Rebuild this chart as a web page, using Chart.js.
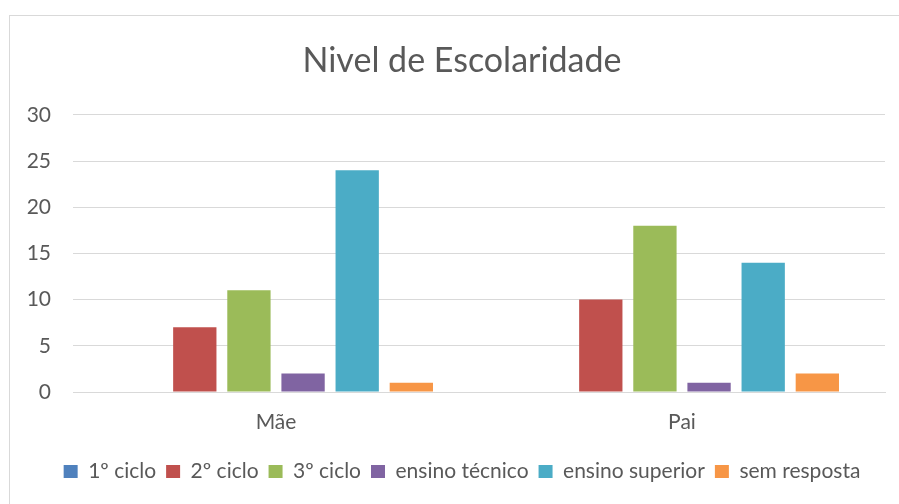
<!DOCTYPE html>
<html>
<head>
<meta charset="utf-8">
<script src="https://cdn.jsdelivr.net/npm/chart.js@4"></script>
<style>
  html, body { margin: 0; padding: 0; background: #fff; overflow: hidden; }
  #frame {
    position: absolute; left: 9px; top: 15px;
    width: 904px; height: 500px;
    border: 1px solid #d9d9d9; background: #fff;
  }
  #wrap { position: absolute; left: 0; top: 0; width: 904px; height: 489px; }
</style>
</head>
<body>
<div id="frame"><div id="wrap"><canvas id="myChart"></canvas></div></div>
<script>
// categories and series
const categories = ['Mãe', 'Pai'];
const seriesNames = ['1º ciclo', '2º ciclo', '3º ciclo', 'ensino técnico', 'ensino superior', 'sem resposta'];
const ciclo1 = [0, 0];
const ciclo2 = [7, 10];
const ciclo3 = [11, 18];
const tecnico = [2, 1];
const superior = [24, 14];
const semResposta = [1, 2];
const colors = ['#4f81bd', '#c0504d', '#9bbb59', '#8064a2', '#4bacc6', '#f79646'];

const values = [ciclo1, ciclo2, ciclo3, tecnico, superior, semResposta];
const font = 'Lato, "Open Sans", sans-serif';

const ctx = document.getElementById('myChart').getContext('2d');
const myChart = new Chart(ctx, {
    type: 'bar',
    data: {
        labels: categories,
        datasets: seriesNames.map((name, i) => ({
            label: name,
            data: values[i],
            backgroundColor: colors[i],
            borderWidth: 0,
            barPercentage: 0.8,
            categoryPercentage: 0.8
        }))
    },
    options: {
        responsive: true,
        maintainAspectRatio: false,
        animation: false,
        layout: { padding: { left: 0, right: 0, top: 0, bottom: 13 } },
        plugins: {
            title: {
                display: true,
                text: 'Nivel de Escolaridade',
                color: '#595959',
                font: { family: font, size: 34, weight: 'normal' },
                padding: { top: 25, bottom: 33 }
            },
            legend: {
                position: 'bottom',
                labels: {
                    color: '#595959',
                    font: { family: font, size: 21 },
                    boxWidth: 14,
                    boxHeight: 13,
                    padding: 10
                }
            },
            tooltip: { enabled: false }
        },
        scales: {
            x: {
                grid: { display: false, drawTicks: false },
                border: { display: true, color: '#d9d9d9' },
                ticks: { color: '#595959', font: { family: font, size: 21 }, padding: 18 },
                afterFit: (scale) => { scale.height = 59; }
            },
            y: {
                min: 0, max: 30,
                grid: { color: '#d9d9d9', drawTicks: false },
                border: { display: false },
                ticks: { stepSize: 5, color: '#595959', font: { family: font, size: 21 }, padding: 22 },
                afterFit: (scale) => { scale.width = 63; }
            },
            // empty right-hand axis, only to keep the plot off the right edge
            yRight: {
                position: 'right',
                grid: { display: false, drawTicks: false },
                border: { display: false },
                ticks: { display: false },
                afterFit: (scale) => { scale.width = 29; }
            }
        }
    }
});
</script>
</body>
</html>
